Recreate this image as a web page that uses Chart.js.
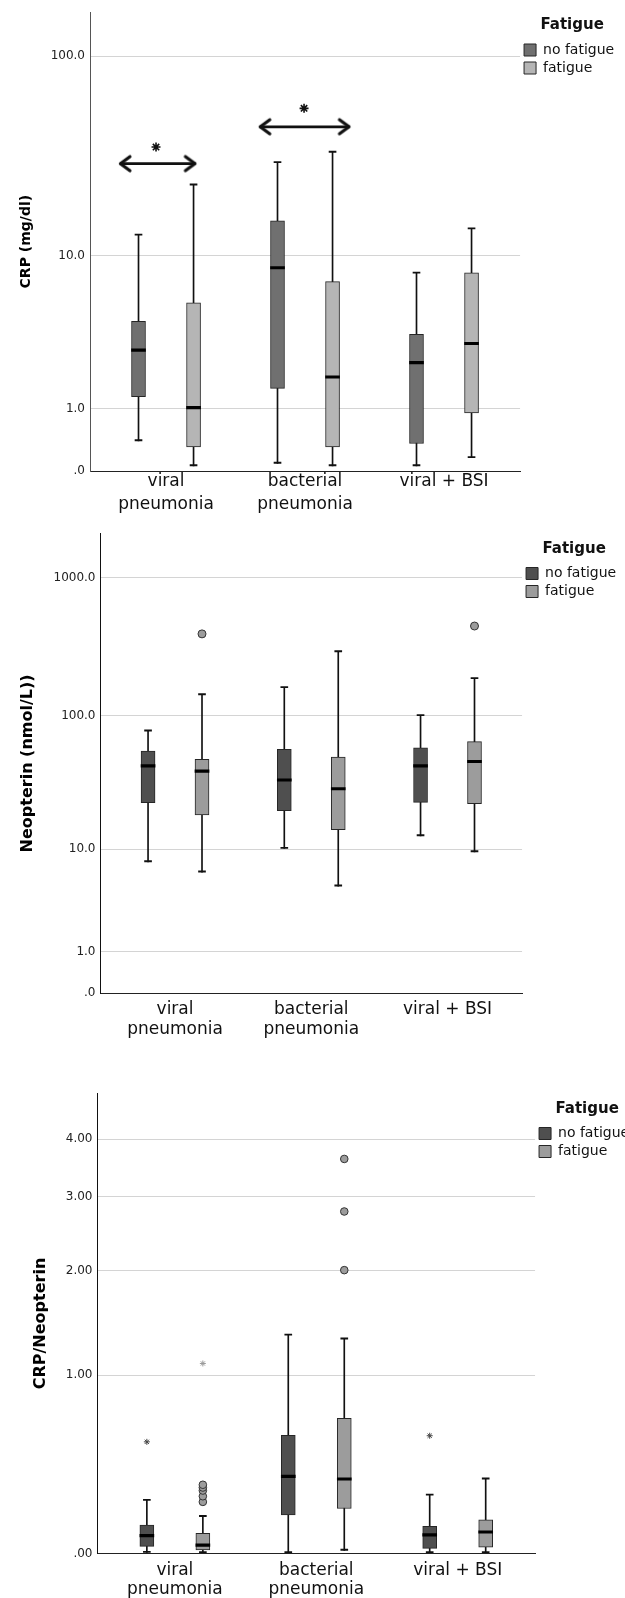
<!DOCTYPE html>
<html>
<head>
<meta charset="utf-8">
<script src="https://cdn.jsdelivr.net/npm/chart.js@4.4.1/dist/chart.umd.min.js"></script>
<style>
  html, body { margin: 0; padding: 0; background: #fff; overflow: hidden; width: 625px; height: 1598px; position: relative; }
  canvas { position: absolute; left: 0; }
</style>
</head>
<body>
<canvas id="crpChart" width="625" height="525" style="top:0px"></canvas>
<canvas id="neoChart" width="627" height="527" style="top:520px"></canvas>
<canvas id="ratioChart" width="640" height="567" style="top:1040px"></canvas>
<script>
Chart.defaults.font.family = "'DejaVu Sans', sans-serif";
Chart.defaults.color = '#111';

const categories = [['viral', 'pneumonia'], ['bacterial', 'pneumonia'], 'viral + BSI'];
const seriesNames = ['no fatigue', 'fatigue'];

// box stats per category: [min, q1, median, q3, max]
const crpNoFatigue = [[0.40, 1.29, 2.79, 4.29, 12.8], [0.09, 1.51, 8.48, 15.2, 29.9], [0.06, 0.36, 2.30, 3.58, 8.04]];
const crpFatigue = [[0.06, 0.31, 1.00, 5.51, 23.1], [0.06, 0.31, 1.81, 7.24, 33.7], [0.16, 0.91, 3.08, 8.07, 13.8]];
const crpTickValues = [0, 1, 10, 100];
const crpTickLabels = ['.0', '1.0', '10.0', '100.0'];

// significance marks on the CRP panel (x in category units, y in mg/dl)
const sigArrowFrom = [-0.332, 0.674];
const sigArrowTo = [0.212, 1.32];
const sigArrowLevel = [29.6, 45.1];
const sigStarX = [-0.072, 0.993];
const sigStarLevel = [35.8, 55.6];

const neoNoFatigue = [[7.9, 22.8, 42.0, 55.1, 77.3], [10.1, 19.8, 33.0, 56.8, 160], [12.7, 22.9, 42.0, 58.3, 100]];
const neoFatigue = [[6.5, 18.4, 38.4, 47.9, 142], [4.95, 14.2, 28.4, 49.8, 291], [9.5, 22.4, 45.2, 64.6, 186]];
const neoFatigueOutliers = [[393], [], [448]];
const neoTickValues = [0, 1, 10, 100, 1000];
const neoTickLabels = ['.0', '1.0', '10.0', '100.0', '1000.0'];

const ratioNoFatigue = [[0.004, 0.028, 0.067, 0.117, 0.229], [0.003, 0.162, 0.343, 0.582, 1.334], [0.003, 0.020, 0.070, 0.111, 0.254]];
const ratioFatigue = [[0.003, 0.014, 0.028, 0.082, 0.154], [0.0125, 0.191, 0.329, 0.69, 1.30], [0.003, 0.025, 0.082, 0.140, 0.335]];
const ratioFatigueOutliers = [[0.222, 0.249, 0.277, 0.292, 0.306], [2.006, 2.775, 3.63], []];
const ratioNoFatigueExtremes = [[0.543], [], [0.580]];
const ratioFatigueExtremes = [[1.092], [], []];
const ratioTickValues = [0, 1, 2, 3, 4];
const ratioTickLabels = ['.00', '1.00', '2.00', '3.00', '4.00'];

// axes are log10(value + 1)
const T = v => Math.log10(v + 1);
const SHIFT = [-0.198, 0.198];

function boxDatasets(stats, s, fill) {
  const x = i => i + SHIFT[s];
  const common = { type: 'bar', grouped: false, borderSkipped: false };
  return [
    { ...common, label: '', order: 4, barThickness: 1, backgroundColor: '#111',
      data: stats.map((b, i) => ({ x: x(i), y: [T(b[0]), T(b[4])] })) },
    { ...common, label: seriesNames[s], order: 3, barThickness: 14, backgroundColor: fill,
      borderColor: '#262626', borderWidth: 1,
      data: stats.map((b, i) => ({ x: x(i), y: [T(b[1]), T(b[3])] })) },
    { ...common, label: '', order: 2, barThickness: 14, minBarLength: 2.5, backgroundColor: '#000',
      data: stats.map((b, i) => ({ x: x(i), y: [T(b[2]), T(b[2])] })) },
    { ...common, label: '', order: 2, barThickness: 7, minBarLength: 1.2, backgroundColor: '#111',
      data: stats.flatMap((b, i) => [{ x: x(i), y: [T(b[0]), T(b[0])] }, { x: x(i), y: [T(b[4]), T(b[4])] }]) }
  ];
}

function pointDataset(vals, s, style, fill, edge, radius) {
  return {
    type: 'scatter', label: '', order: 1, pointStyle: style, pointRadius: radius,
    backgroundColor: fill, borderColor: edge, borderWidth: 1,
    data: vals.flatMap((list, i) => list.map(v => ({ x: i + SHIFT[s], y: T(v) })))
  };
}

function arrowHead() {
  const c = document.createElement('canvas');
  c.width = 26; c.height = 26;
  const g = c.getContext('2d');
  g.strokeStyle = '#111'; g.lineWidth = 3.2; g.lineCap = 'round'; g.lineJoin = 'round';
  g.beginPath(); g.moveTo(23, 6); g.lineTo(13.5, 13); g.lineTo(23, 20); g.stroke();
  return c;
}

function drawPanel(p) {
  const datasets = [];
  p.stats.forEach((stats, s) => datasets.push(...boxDatasets(stats, s, p.fills[s])));
  (p.extra || []).forEach(d => datasets.push(d));

  new Chart(document.getElementById(p.id), {
    type: 'bar',
    data: { datasets },
    options: {
      responsive: false,
      animation: false,
      events: [],
      layout: { padding: p.padding },
      plugins: {
        tooltip: { enabled: false },
        legend: {
          position: 'right',
          align: 'start',
          title: { display: true, text: 'Fatigue', color: '#111', font: { size: 15, weight: 'bold' }, padding: { top: 8, bottom: 3 } },
          labels: { boxWidth: 12, boxHeight: 12, padding: 4, color: '#111', font: { size: 14 },
            filter: item => item.text !== '' }
        }
      },
      scales: {
        x: {
          type: 'linear', min: -0.547, max: 2.547, offset: false,
          grid: { display: false, drawTicks: false, offset: false },
          border: { color: '#222' },
          afterBuildTicks: sc => { sc.ticks = categories.map((c, i) => ({ value: i })); },
          ticks: { padding: p.xPad, autoSkip: false, maxRotation: 0, color: '#111',
            font: { size: 17, lineHeight: p.xLine }, callback: v => categories[v] }
        },
        y: {
          type: 'linear', stacked: false, bounds: 'data', min: 0, max: T(p.yMax),
          afterBuildTicks: sc => { sc.ticks = p.tickValues.map(v => ({ value: T(v) })); },
          afterFit: sc => { sc.width = p.axisLeft; },
          grid: { color: '#d4d4d4', drawTicks: false },
          border: { color: p.axisColor },
          ticks: { padding: 5, color: '#222', font: { size: 12 }, callback: (v, i) => p.tickLabels[i] },
          title: { display: true, text: p.title, color: '#000',
            font: { size: p.titleSize, weight: 'bold' }, padding: { top: p.titlePad, bottom: 0 } }
        }
      }
    }
  });
}

const head = arrowHead();
const crpExtra = sigArrowFrom.map((from, k) => ({
  type: 'line', label: '', order: 0, borderColor: '#111', borderWidth: 2.8,
  pointStyle: head, pointRotation: [0, 180], pointRadius: 6,
  data: [{ x: from, y: T(sigArrowLevel[k]) }, { x: sigArrowTo[k], y: T(sigArrowLevel[k]) }]
}));
crpExtra.push({
  type: 'scatter', label: '', order: 0, pointStyle: 'star', pointRadius: 4.5,
  borderColor: '#111', borderWidth: 1.6,
  data: sigStarX.map((x, k) => ({ x, y: T(sigStarLevel[k]) }))
});

drawPanel({
  id: 'crpChart', stats: [crpNoFatigue, crpFatigue], fills: ['#707070', '#b5b5b5'],
  tickValues: crpTickValues, tickLabels: crpTickLabels, yMax: 164,
  title: 'CRP (mg/dl)', titleSize: 14, titlePad: 17.6, axisLeft: 90, axisColor: '#555',
  xPad: -0.5, xLine: 1.32,
  padding: { top: 10, right: 0.8, bottom: 10, left: 0 }, extra: crpExtra
});

drawPanel({
  id: 'neoChart', stats: [neoNoFatigue, neoFatigue], fills: ['#4f4f4f', '#9c9c9c'],
  tickValues: neoTickValues, tickLabels: neoTickLabels, yMax: 2090,
  title: 'Neopterin (nmol/L))', titleSize: 16, titlePad: 18.4, axisLeft: 100.5, axisColor: '#111',
  xPad: 7, xLine: 1.15,
  padding: { top: 13.5, right: 0.8, bottom: 0.6, left: 0 },
  extra: [pointDataset(neoFatigueOutliers, 1, 'circle', '#9c9c9c', '#333', 4)]
});

drawPanel({
  id: 'ratioChart', stats: [ratioNoFatigue, ratioFatigue], fills: ['#4f4f4f', '#9c9c9c'],
  tickValues: ratioTickValues, tickLabels: ratioTickLabels, yMax: 4.97,
  title: 'CRP/Neopterin', titleSize: 16, titlePad: 31.4, axisLeft: 97.5, axisColor: '#111',
  xPad: 7, xLine: 1.15,
  padding: { top: 53.5, right: 0.8, bottom: 0.4, left: 0 },
  extra: [
    pointDataset(ratioFatigueOutliers, 1, 'circle', '#9c9c9c', '#333', 3.8),
    pointDataset(ratioNoFatigueExtremes, 0, 'star', '#444', '#444', 3),
    pointDataset(ratioFatigueExtremes, 1, 'star', '#999', '#999', 3)
  ]
});
</script>
</body>
</html>
